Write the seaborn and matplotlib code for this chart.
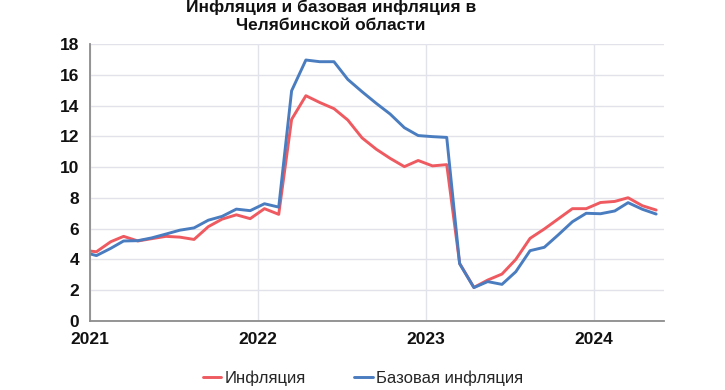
import pandas as pd
import numpy as np
import matplotlib
matplotlib.use('Agg')
import matplotlib.pyplot as plt
import matplotlib.dates as mdates
import seaborn as sns

# =========================
# DADOS (leitura do gráfico)
# =========================
meses = pd.date_range('2020-12-01', '2024-05-01', freq='MS') + pd.Timedelta(days=14)

inflacao = [4.6,
            4.5, 5.15, 5.5, 5.2, 5.35, 5.5, 5.45, 5.3, 6.13, 6.62, 6.9, 6.65,
            7.3, 6.93, 13.1, 14.64, 14.2, 13.8, 13.06, 11.9, 11.16, 10.57, 10.03, 10.43,
            10.08, 10.16, 3.75, 2.18, 2.66, 3.05, 4.0, 5.37, 5.98, 6.63, 7.3, 7.3,
            7.7, 7.77, 8.01, 7.49, 7.21]

base = [4.5,
        4.25, 4.72, 5.2, 5.22, 5.4, 5.65, 5.9, 6.05, 6.55, 6.8, 7.27, 7.17,
        7.62, 7.4, 14.96, 16.96, 16.85, 16.85, 15.7, 14.9, 14.14, 13.45, 12.56, 12.05,
        11.98, 11.93, 3.72, 2.17, 2.56, 2.38, 3.2, 4.57, 4.79, 5.59, 6.45, 7.0,
        6.97, 7.15, 7.69, 7.26, 6.95]

series = ['Инфляция', 'Базовая инфляция']
cores = ['#ee5a60', '#4a7cc0']
titulo = ['Инфляция и базовая инфляция в', 'Челябинской области']

df = pd.DataFrame({'data': meses, series[0]: inflacao, series[1]: base})
df_long = df.melt(id_vars='data', var_name='serie', value_name='valor')

# =========================
# ESTILO
# =========================
sns.set_theme(style='white')
plt.rcParams['font.family'] = ['Liberation Sans', 'DejaVu Sans']

fig = plt.figure(figsize=(7.25, 3.9), dpi=100)
ax = fig.add_axes([90 / 725, 1 - 321 / 390, 574 / 725, 277 / 390])

sns.lineplot(data=df_long, x='data', y='valor', hue='serie', hue_order=series,
             palette=cores, linewidth=2.1, ax=ax, legend=False)

ax.set_xlim(pd.Timestamp('2021-01-01'), pd.Timestamp('2024-06-01'))
ax.set_ylim(0, 18)
ax.set_yticks(np.arange(0, 19, 2))
ax.xaxis.set_major_locator(mdates.YearLocator())
ax.xaxis.set_major_formatter(mdates.DateFormatter('%Y'))

ax.grid(True, color='#e2e2ea', linewidth=1)
ax.set_axisbelow(True)
for s in ['top', 'right']:
    ax.spines[s].set_visible(False)
for s in ['left', 'bottom']:
    ax.spines[s].set_color('#8c8c8c')
    ax.spines[s].set_linewidth(1.3)

ax.tick_params(axis='both', direction='out', length=5, width=1.2, color='#8c8c8c',
               labelsize=12.5, labelcolor='#111111', pad=3)
for lbl in ax.get_xticklabels() + ax.get_yticklabels():
    lbl.set_fontweight('bold')
ax.set_xlabel('')
ax.set_ylabel('')

# titulo em duas linhas (a primeira encostada na borda, como no original)
fig.text(331 / 725, 1 - 7 / 390, titulo[0], ha='center', va='center',
         fontsize=12.5, fontweight='bold', color='#111111')
fig.text(331 / 725, 1 - 26 / 390, titulo[1], ha='center', va='center',
         fontsize=12.5, fontweight='bold', color='#111111')

handles = [plt.Line2D([], [], color=c, linewidth=2.1) for c in cores]
fig.legend(handles, series, loc='center', bbox_to_anchor=(363 / 725, 1 - 378 / 390),
           ncol=2, frameon=False, fontsize=12, handlelength=1.1, handletextpad=0.2,
           columnspacing=2.9)

plt.savefig('out.png', dpi=100)
